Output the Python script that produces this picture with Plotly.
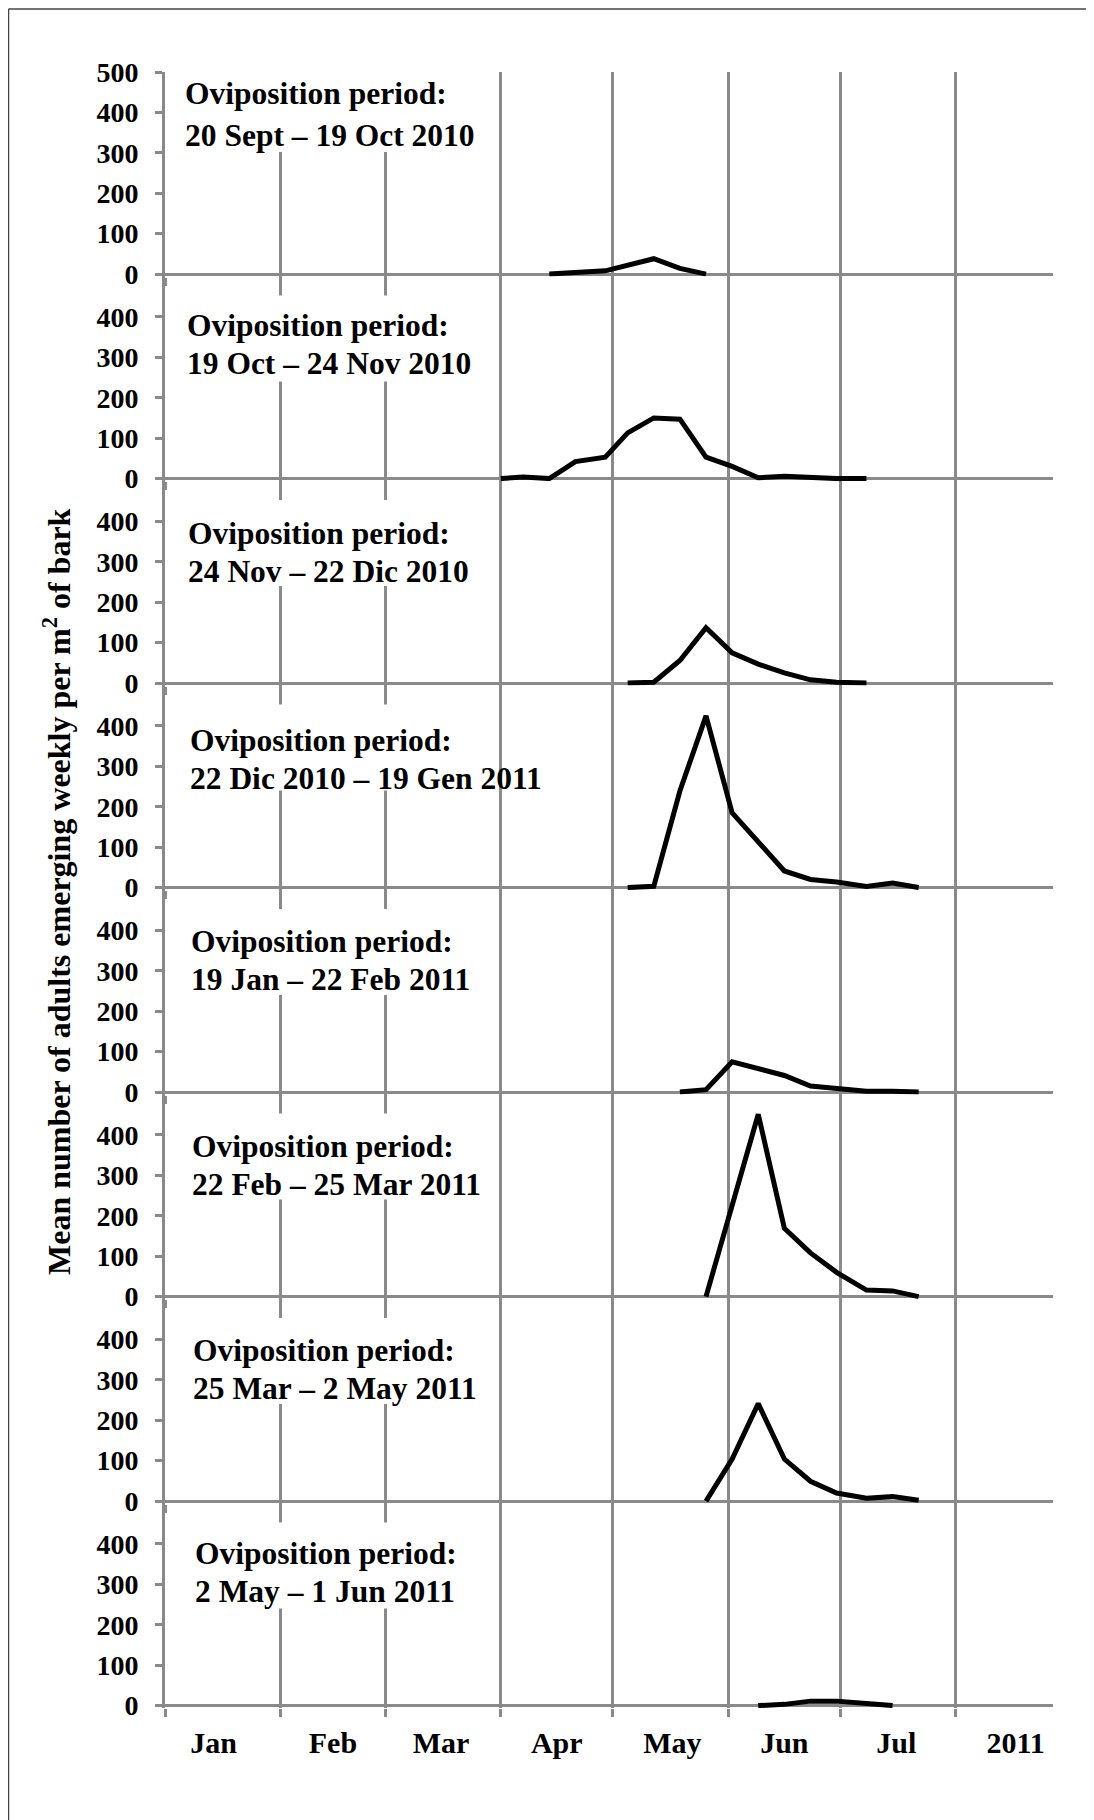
import plotly.graph_objects as go
from plotly.subplots import make_subplots

# ---------------- data ----------------
period_label = "Oviposition period:"
periods = [
    "20 Sept – 19 Oct 2010",
    "19 Oct – 24 Nov 2010",
    "24 Nov – 22 Dic 2010",
    "22 Dic 2010 – 19 Gen 2011",
    "19 Jan – 22 Feb 2011",
    "22 Feb – 25 Mar 2011",
    "25 Mar – 2 May 2011",
    "2 May – 1 Jun 2011",
]

p1_dates = ["2011-04-14", "2011-04-29", "2011-05-12", "2011-05-19", "2011-05-26"]
p1_values = [0, 8, 38, 14, 0]

p2_dates = ["2011-04-01", "2011-04-07", "2011-04-14", "2011-04-21", "2011-04-29", "2011-05-05",
            "2011-05-12", "2011-05-19", "2011-05-26", "2011-06-02", "2011-06-09", "2011-06-16",
            "2011-06-30", "2011-07-08"]
p2_values = [0, 4, 0, 42, 53, 113, 150, 147, 53, 30, 2, 6, 0, 0]

p3_dates = ["2011-05-05", "2011-05-12", "2011-05-19", "2011-05-26", "2011-06-02", "2011-06-09",
            "2011-06-16", "2011-06-23", "2011-06-30", "2011-07-08"]
p3_values = [0, 2, 56, 137, 75, 47, 25, 8, 2, 0]

p4_dates = ["2011-05-05", "2011-05-12", "2011-05-19", "2011-05-26", "2011-06-02", "2011-06-09",
            "2011-06-16", "2011-06-23", "2011-06-30", "2011-07-08", "2011-07-15", "2011-07-22"]
p4_values = [0, 3, 239, 425, 185, 112, 41, 20, 14, 3, 11, 0]

p5_dates = ["2011-05-19", "2011-05-26", "2011-06-02", "2011-06-09", "2011-06-16", "2011-06-23",
            "2011-06-30", "2011-07-08", "2011-07-15", "2011-07-22"]
p5_values = [0, 6, 75, 57, 41, 15, 8, 2, 2, 0]

p6_dates = ["2011-05-26", "2011-06-02", "2011-06-09", "2011-06-16", "2011-06-23", "2011-06-30",
            "2011-07-08", "2011-07-15", "2011-07-22"]
p6_values = [0, 226, 451, 169, 108, 60, 16, 14, 0]

p7_dates = ["2011-05-26", "2011-06-02", "2011-06-09", "2011-06-16", "2011-06-23", "2011-06-30",
            "2011-07-08", "2011-07-15", "2011-07-22"]
p7_values = [0, 104, 241, 104, 49, 20, 7, 11, 2]

p8_dates = ["2011-06-09", "2011-06-16", "2011-06-23", "2011-06-30", "2011-07-15"]
p8_values = [0, 3, 11, 11, 0]

month_starts = ["2011-01-01", "2011-02-01", "2011-03-01", "2011-04-01", "2011-05-01",
                "2011-06-01", "2011-07-01", "2011-08-01"]
month_label_pos = ["2011-01-14", "2011-02-15", "2011-03-16", "2011-04-16", "2011-05-17",
                   "2011-06-16", "2011-07-16", "2011-08-17"]
month_labels = ["Jan", "Feb", "Mar", "Apr", "May", "Jun", "Jul", "2011"]

y_ticks_top = [0, 100, 200, 300, 400, 500]
y_ticks_other = [0, 100, 200, 300, 400]

y_title = "Mean number of adults emerging weekly per m<sup>2</sup> of bark"

all_dates = [p1_dates, p2_dates, p3_dates, p4_dates, p5_dates, p6_dates, p7_dates, p8_dates]
all_values = [p1_values, p2_values, p3_values, p4_values, p5_values, p6_values, p7_values, p8_values]

# ---------------- style ----------------
GRAY = "#8a8a8a"
FONT = "Liberation Serif"
PAGE = 8  # default page body margin in the browser
W, H = 1094 - PAGE, 1820 - PAGE
ML, MR, MT, MB = 165 - PAGE, 41, 72 - PAGE, 112
PW = W - ML - MR
PH = H - MT - MB

def px_x(px):
    """page pixel x -> paper x"""
    return (px - PAGE - ML) / PW

def px_y(py):
    """page pixel y -> paper y"""
    return (H - MB - (py - PAGE)) / PH

n = len(periods)
fig = make_subplots(rows=n, cols=1, vertical_spacing=0)

for i in range(n):
    fig.add_trace(go.Scatter(x=all_dates[i], y=all_values[i], mode="lines",
                             line=dict(color="black", width=5),
                             showlegend=False, hoverinfo="skip"), row=i + 1, col=1)

for i in range(n):
    r = i + 1
    bottom = (r == n)
    fig.update_xaxes(row=r, col=1, type="date", range=["2011-01-01", "2011-08-27"],
                     tickmode="array", tickvals=month_label_pos, ticktext=month_labels,
                     showticklabels=bottom, ticks="", showgrid=False, zeroline=False,
                     showline=False,
                     tickfont=dict(family=FONT, size=30, color="black", weight="bold"),
                     ticklabelstandoff=14,
                     minor=dict(tickmode="array", tickvals=month_starts, ticks="outside",
                                ticklen=8, tickwidth=3, tickcolor=GRAY,
                                showgrid=True, gridcolor=GRAY, gridwidth=3))
    fig.update_yaxes(row=r, col=1, range=[-6, 500],
                     tickmode="array", tickvals=y_ticks_top if r == 1 else y_ticks_other,
                     ticks="outside", ticklen=7, tickwidth=3, tickcolor=GRAY,
                     showline=True, linecolor=GRAY, linewidth=3,
                     showgrid=False, zeroline=True, zerolinecolor=GRAY, zerolinewidth=3,
                     tickfont=dict(family=FONT, size=28, color="black", weight="bold"),
                     ticklabelstandoff=11)

# text boxes (white, hide gridlines) and labels
line1_px = [181, 153, 150, 147, 151, 150, 151, 152]
line2_px = [139, 115, 112, 109, 113, 112, 113, 114]
text_left = [183, 185, 186, 188, 189, 190, 191, 193]
PXU = PH / n / 506.0
annotations = []
shapes = []
for i in range(n):
    yref = "y" if i == 0 else f"y{i + 1}"
    if i == 0:
        y0, y1 = 302, 500
    else:
        y0, y1 = 240, 453
    shapes.append(dict(type="rect", xref="paper", yref=yref, x0=px_x(172), x1=px_x(490),
                       y0=y0, y1=y1, fillcolor="white", line=dict(width=0), layer="above"))
    annotations.append(dict(text=period_label, xref="paper", yref=yref, x=px_x(text_left[i]),
                            y=line1_px[i] / PXU, xanchor="left", yanchor="middle",
                            showarrow=False,
                            font=dict(family=FONT, size=31.5, color="black", weight="bold")))
    annotations.append(dict(text=periods[i], xref="paper", yref=yref, x=px_x(text_left[i]),
                            y=line2_px[i] / PXU, xanchor="left", yanchor="middle",
                            showarrow=False,
                            font=dict(family=FONT, size=31.5, color="black", weight="bold")))

annotations.append(dict(text=y_title, xref="paper", yref="paper", x=px_x(57), y=px_y(892),
                        xanchor="center", yanchor="middle", textangle=-90, showarrow=False,
                        font=dict(family=FONT, size=32, color="black", weight="bold")))

# outer frame (top and left edges)
shapes.append(dict(type="line", xref="paper", yref="paper", x0=px_x(8.5), x1=px_x(1094),
                   y0=px_y(9), y1=px_y(9), line=dict(color="#444444", width=1.5)))
shapes.append(dict(type="line", xref="paper", yref="paper", x0=px_x(8.5), x1=px_x(8.5),
                   y0=px_y(9), y1=px_y(1820), line=dict(color="#444444", width=1.5)))

fig.update_layout(width=W, height=H, margin=dict(l=ML, r=MR, t=MT, b=MB),
                  paper_bgcolor="white", plot_bgcolor="white",
                  annotations=annotations, shapes=shapes, showlegend=False)

fig.write_html("out.html")
